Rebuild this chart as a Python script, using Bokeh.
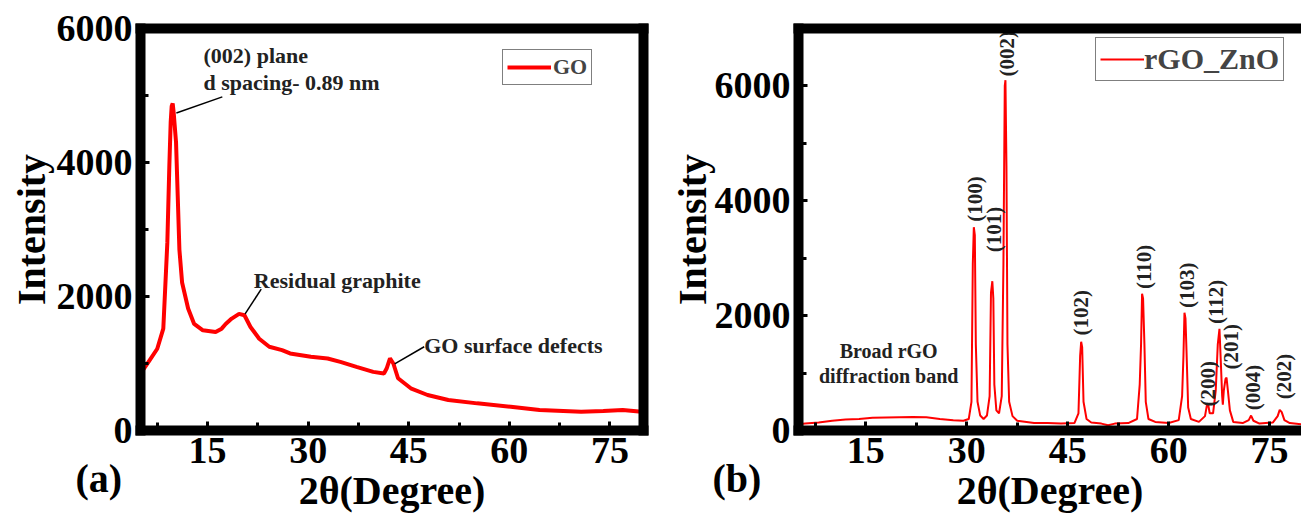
import math
from bokeh.plotting import figure
from bokeh.models import LinearAxis, FixedTicker, Legend, LegendItem, Range1d, Title
from bokeh.layouts import row
from bokeh.core.properties import value
from bokeh.embed import file_html
from bokeh.resources import INLINE

FONT = "Liberation Serif"

# ---------------- data: panel (a) GO ----------------
go_x = [5.0, 6.2, 7.5, 8.4, 9.0, 9.3, 9.5, 9.65, 9.8, 9.95, 10.1, 10.3, 10.55, 10.8,
        11.2, 12.1, 13.0, 14.3, 16.2, 17.1, 17.7, 18.6, 19.7, 20.5, 21.4, 22.7, 24.2,
        26.1, 27.3, 30.4, 32.9, 34.8, 37.2, 39.7, 41.3, 41.7, 42.2, 42.7, 43.4, 45.3,
        47.8, 50.9, 55.2, 60.2, 64.5, 70.7, 74.0, 76.9, 79.7, 80.0]
go_y = [850, 1025, 1220, 1520, 2800, 3950, 4600, 4840, 4880, 4740, 4550, 4300, 3500, 2700,
        2210, 1820, 1590, 1495, 1470, 1520, 1590, 1670, 1740, 1720, 1545, 1370, 1250,
        1200, 1150, 1100, 1075, 1025, 950, 875, 850, 925, 1075, 1000, 780, 630,
        530, 455, 405, 355, 305, 280, 290, 305, 280, 280]

go_notes = ["(002) plane", "d spacing- 0.89 nm", "Residual graphite", "GO surface defects"]
go_note_x = [14.4, 14.4, 21.9, 47.3]
go_note_y = [5600, 5200, 2245, 1265]
go_lead_x0 = [10.35, 20.6, 42.9]
go_lead_y0 = [4740, 1740, 995]
go_lead_x1 = [17.2, 23.0, 47.3]
go_lead_y1 = [4980, 2110, 1250]

# ---------------- data: panel (b) rGO_ZnO ----------------
rz_x = [5.0, 6, 8, 10, 12, 14, 16, 18, 20, 22, 24, 26, 28, 29.5,
        30.3, 30.7, 30.9, 31.05, 31.2, 31.35, 31.6, 32.0, 32.5,
        33.0, 33.4, 33.6, 33.8, 33.95, 34.1, 34.4, 34.8,
        35.2, 35.45, 35.65, 35.75, 35.9, 36.05, 36.3, 36.8, 37.5,
        40, 42, 44, 46, 46.6, 46.85, 47.0, 47.15, 47.35, 47.8, 48.5,
        50, 51, 52, 54, 55.3, 55.7, 55.9, 56.05, 56.2, 56.4, 56.6, 57, 58,
        60, 61.5, 62.0, 62.2, 62.35, 62.5, 62.65, 62.9, 63.3, 64.5,
        65.4, 65.7, 65.85, 66.1, 66.6, 67.0, 67.3, 67.55, 67.75, 67.95, 68.05,
        68.2, 68.45, 68.6, 68.8, 69.1, 69.6, 71, 71.9, 72.25, 72.6, 73.5,
        75.5, 76.2, 76.5, 76.8, 77.2, 78, 79.7]
rz_y = [110, 120, 140, 170, 190, 200, 220, 225, 230, 235, 230, 200, 180, 170,
        200, 500, 2900, 3540, 3400, 1500, 500, 260, 200,
        260, 600, 2400, 2600, 2300, 800, 350, 300,
        600, 2900, 6000, 6100, 4600, 1500, 500, 250, 170,
        130, 130, 120, 130, 300, 1300, 1545, 1450, 500, 200, 140,
        120, 90, 120, 130, 200, 800, 1500, 2380, 2300, 1500, 500, 200, 150,
        130, 180, 600, 1300, 2050, 1950, 1400, 400, 200, 150,
        250, 450, 470, 300, 300, 700, 1500, 1770, 1200, 600, 450,
        700, 900, 920, 700, 350, 150, 130, 180, 260, 170, 120,
        140, 250, 360, 320, 180, 130, 110]

hkl = ["(100)", "(101)", "(002)", "(102)", "(110)", "(103)",
       "(200)", "(112)", "(201)", "(004)", "(202)"]
hkl_x = [31.3, 34.1, 36.05, 47.0, 56.4, 62.8, 65.8, 67.1, 69.2, 72.5, 77.1]
hkl_y = [4030, 3500, 6560, 2050, 2850, 2530, 815, 2240, 1460, 750, 940]

band_text = ["Broad rGO", "diffraction band"]
band_x = [18.4, 18.4]
band_y = [1390, 955]

x_ticks = [15, 30, 45, 60, 75]
x_minor = [7.5, 22.5, 37.5, 52.5, 67.5]
y_ticks = [0, 2000, 4000, 6000]
y_minor = [1000, 3000, 5000]


def frame_axis(p, side):
    ax = LinearAxis(ticker=FixedTicker(ticks=[]), major_label_text_font_size="0px",
                    axis_line_width=10, axis_line_cap="square", major_tick_in=0,
                    major_tick_out=0, minor_tick_in=0, minor_tick_out=0,
                    major_label_standoff=0)
    p.add_layout(ax, side)


def panel_tag(p, text, offset):
    p.add_layout(Title(text=text, align="left", offset=offset, standoff=-120,
                       vertical_align="top", text_font=FONT, text_font_style="bold",
                       text_font_size="40px", text_color="black"), "below")


def style(p, xlabel_standoff, ylabel_standoff):
    p.outline_line_color = None
    p.grid.visible = False
    p.background_fill_color = "white"
    p.border_fill_color = "white"
    for ax in (p.xaxis[0], p.yaxis[0]):
        ax.axis_line_width = 10
        ax.axis_line_cap = "square"
        ax.major_tick_in = 9
        ax.major_tick_out = 0
        ax.minor_tick_in = 8
        ax.minor_tick_out = 0
        ax.major_tick_line_width = 3
        ax.minor_tick_line_width = 3
        ax.major_label_text_font = FONT
        ax.major_label_text_font_style = "bold"
        ax.major_label_text_font_size = "38px"
        ax.major_label_text_color = "black"
        ax.axis_label_text_font = FONT
        ax.axis_label_text_font_style = "bold"
        ax.axis_label_text_font_size = "40px"
        ax.axis_label_text_color = "black"
    p.xaxis[0].ticker = FixedTicker(ticks=x_ticks, minor_ticks=x_minor)
    p.yaxis[0].ticker = FixedTicker(ticks=y_ticks, minor_ticks=y_minor)
    p.xaxis[0].major_label_standoff = 7
    p.yaxis[0].major_label_standoff = 8
    p.xaxis[0].axis_label_standoff = xlabel_standoff
    p.yaxis[0].axis_label_standoff = ylabel_standoff


# ---------------- panel (a) ----------------
p1 = figure(width=665, height=515, x_range=Range1d(5, 80), y_range=Range1d(0, 6000),
            output_backend="svg", toolbar_location=None,
            min_border_left=140, min_border_right=22, min_border_top=28, min_border_bottom=83,
            x_axis_label="2θ(Degree)", y_axis_label="Intensity")
style(p1, 2, 0)
frame_axis(p1, "above")
frame_axis(p1, "right")

r1 = p1.line(go_x, go_y, line_color="red", line_width=4)
p1.segment(x0=go_lead_x0, y0=go_lead_y0, x1=go_lead_x1, y1=go_lead_y1,
           line_color="black", line_width=1.5)
p1.text(x=go_note_x, y=go_note_y, text=go_notes, text_font=value(FONT),
        text_font_style="bold", text_font_size="22px", text_color="#222222",
        text_align="left", text_baseline="middle")
leg1 = Legend(items=[LegendItem(label="GO", renderers=[r1])], location=(362, 345),
              label_text_font=FONT, label_text_font_style="bold", label_text_font_size="22px",
              glyph_width=44, glyph_height=20, label_standoff=2, padding=4, margin=0,
              label_height=20, border_line_color="black", border_line_width=1.5,
              background_fill_alpha=1.0)
p1.add_layout(leg1)
panel_tag(p1, "(a)", -65)

# ---------------- panel (b) ----------------
p2 = figure(width=636, height=515, x_range=Range1d(5, 79.74), y_range=Range1d(0, 7000),
            output_backend="svg", toolbar_location=None,
            min_border_left=133, min_border_right=0, min_border_top=28, min_border_bottom=85,
            x_axis_label="2θ(Degree)", y_axis_label="Intensity")
style(p2, 2, -3)
frame_axis(p2, "above")

r2 = p2.line(rz_x, rz_y, line_color="red", line_width=2)
p2.text(x=hkl_x, y=hkl_y, text=hkl, angle=math.pi / 2, text_font=value(FONT),
        text_font_style="bold", text_font_size="21px", text_color="#222222",
        text_align="center", text_baseline="middle")
p2.text(x=band_x, y=band_y, text=band_text, text_font=value(FONT),
        text_font_style="bold", text_font_size="20px", text_color="#222222",
        text_align="center", text_baseline="middle")
leg2 = Legend(items=[LegendItem(label="rGO_ZnO", renderers=[r2])], location=(297, 349),
              label_text_font=FONT, label_text_font_style="bold", label_text_font_size="30px",
              glyph_width=44, glyph_height=24, label_standoff=0, padding=4, margin=0,
              label_height=26, border_line_color="black", border_line_width=1.5,
              background_fill_alpha=1.0)
p2.add_layout(leg2)
panel_tag(p2, "(b)", -86)

layout = row(p1, p2)
open("out.html", "w").write(file_html(layout, INLINE))
